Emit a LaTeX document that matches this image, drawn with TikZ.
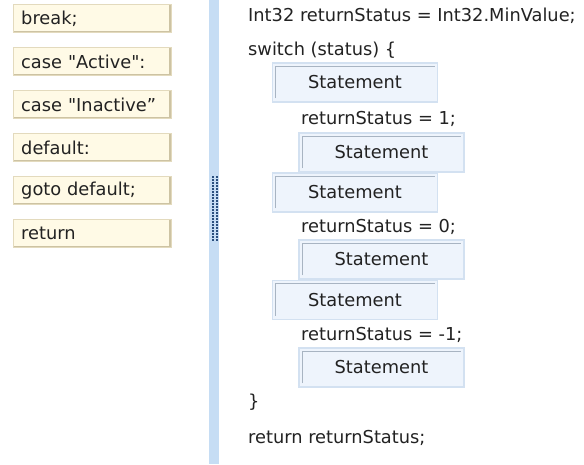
\documentclass[tikz,border=0pt]{standalone}
\usepackage{fontspec}
\setmainfont{DejaVu Sans}[Ligatures=TeXOff]
\definecolor{tilefill}{HTML}{FFFAE6}
\definecolor{tileedge}{HTML}{E3DABD}
\definecolor{tileshade}{HTML}{CDC3A3}
\definecolor{stmtfill}{HTML}{EEF4FC}
\definecolor{stmtedge}{HTML}{D3E1F1}
\definecolor{stmtinset}{HTML}{A8B4C2}
\definecolor{splitbar}{HTML}{C6DDF4}
\definecolor{gripdot}{HTML}{2A4F7E}
\definecolor{codetext}{HTML}{222222}
\tikzset{
  tile/.style={draw=tileedge, fill=tilefill, anchor=west, inner xsep=8pt,
    minimum width=158pt, minimum height=28pt, text width=142pt, align=left,
    text=codetext,
    path picture={\draw[tileshade,line width=4pt]
      (path picture bounding box.north east) -- (path picture bounding box.south east)
      -- (path picture bounding box.south west);}},
  stmtbox/.style={draw=stmtedge, line width=1.5pt, fill=stmtfill,
    minimum width=165pt, minimum height=39pt, text=codetext,
    path picture={\draw[stmtinset,line width=0.8pt]
      ([xshift=3pt,yshift=4pt]path picture bounding box.south west)
      |- ([xshift=-3pt,yshift=-3pt]path picture bounding box.north east);}},
  code/.style={anchor=base west, inner sep=0pt, text=codetext}
}
\begin{document}
\begin{tikzpicture}[x=1pt,y=-1pt,font=\fontsize{17.8}{20}\selectfont]
  \useasboundingbox[fill=white] (0,0) rectangle (584,464);
  % splitter
  \fill[splitbar] (209,0) rectangle (219,464);
  \foreach \y in {176,179,...,239}
    \foreach \x in {212,215.5}
      \fill[gripdot] (\x,\y) rectangle ++(2,2);
  % choices
  \node[tile] (brk) at (13,18.5) {break;};
  \node[tile] (act) at (13,61.5) {case "Active":};
  \node[tile] (ina) at (13,104.5) {case "Inactive”};
  \node[tile] (dft) at (13,147.5) {default:};
  \node[tile] (gto) at (13,190.5) {goto default;};
  \node[tile] (ret) at (13,233.5) {return};
  % code
  \node[code] (decl) at (248,21) {Int32 returnStatus = Int32.MinValue;};
  \node[code] (sw) at (248,55) {switch (status) \{};
  \node[stmtbox] (s1) at (355,82.5) {Statement};
  \node[code] (r1) at (301,124) {returnStatus = 1;};
  \node[stmtbox] (s2) at (381.5,152.5) {Statement};
  \node[stmtbox] (s3) at (355,192.5) {Statement};
  \node[code] (r0) at (301,232) {returnStatus = 0;};
  \node[stmtbox] (s4) at (381.5,259.5) {Statement};
  \node[stmtbox] (s5) at (355,300) {Statement};
  \node[code] (rm) at (301,340) {returnStatus = -1;};
  \node[stmtbox] (s6) at (381.5,367.5) {Statement};
  \node[code] (cl) at (248,407) {\}};
  \node[code] (rs) at (248,443) {return returnStatus;};
\end{tikzpicture}
\end{document}
